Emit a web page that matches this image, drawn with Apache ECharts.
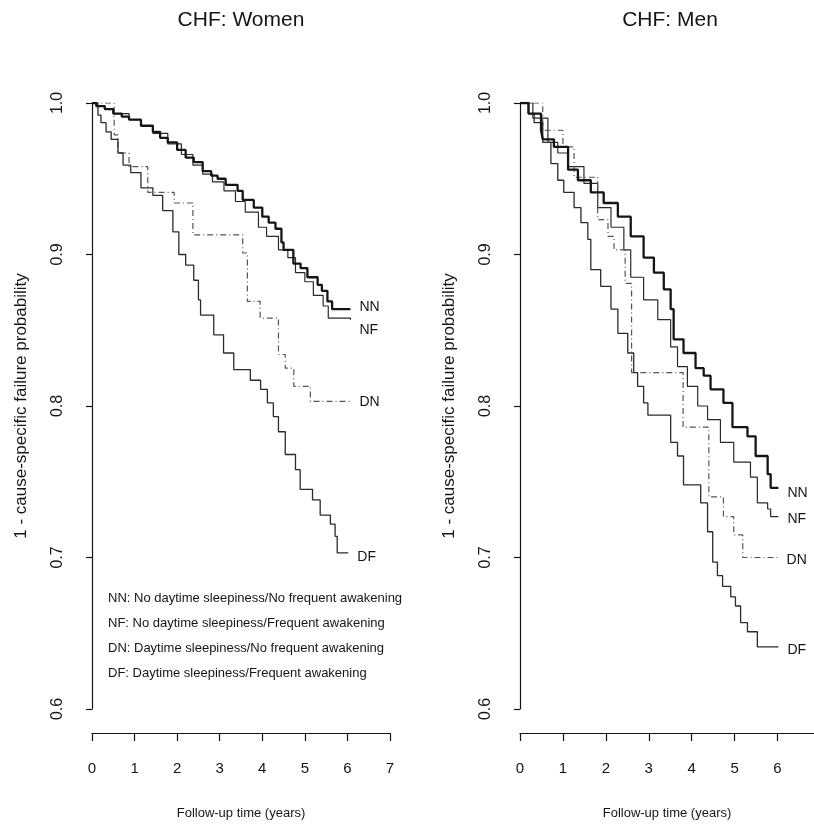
<!DOCTYPE html>
<html>
<head>
<meta charset="utf-8">
<title>CHF survival curves</title>
<script src="https://cdn.jsdelivr.net/npm/echarts@6/dist/echarts.min.js"></script>
<style>
  html, body { margin: 0; padding: 0; background: #fff; }
  #chart { width: 814px; height: 825px; }
</style>
</head>
<body>
<div id="chart"></div>
<script>
// [follow-up years, 1 - failure probability]
var womenNN = [[0,1.000],[0.10,0.998],[0.30,0.996],[0.50,0.993],[0.70,0.991],[0.87,0.989],[1.15,0.985],[1.43,0.981],[1.60,0.977],[1.78,0.974],[2.00,0.969],[2.20,0.964],[2.39,0.961],[2.60,0.955],[2.80,0.952],[2.95,0.950],[3.14,0.946],[3.42,0.942],[3.54,0.936],[3.80,0.931],[4.00,0.925],[4.15,0.921],[4.31,0.917],[4.45,0.908],[4.50,0.903],[4.73,0.894],[4.90,0.891],[5.06,0.885],[5.30,0.880],[5.40,0.876],[5.53,0.869],[5.64,0.864],[6.07,0.864]];
var womenNF = [[0,1.000],[0.10,0.998],[0.30,0.996],[0.50,0.993],[0.87,0.989],[1.15,0.985],[1.43,0.980],[1.78,0.973],[2.10,0.966],[2.37,0.959],[2.60,0.953],[2.83,0.948],[3.10,0.942],[3.37,0.935],[3.60,0.928],[3.91,0.918],[4.10,0.912],[4.38,0.903],[4.60,0.898],[4.78,0.888],[5.00,0.882],[5.20,0.873],[5.43,0.866],[5.55,0.858],[6.07,0.857]];
var womenDN = [[0,1.000],[0.52,0.979],[0.61,0.967],[0.87,0.958],[1.31,0.941],[1.93,0.934],[2.37,0.913],[3.54,0.901],[3.65,0.869],[3.95,0.858],[4.38,0.834],[4.54,0.825],[4.74,0.813],[5.13,0.803],[6.07,0.803]];
var womenDF = [[0,1.000],[0.14,0.992],[0.21,0.987],[0.33,0.981],[0.45,0.976],[0.61,0.967],[0.73,0.959],[0.91,0.954],[1.15,0.944],[1.43,0.939],[1.66,0.929],[1.90,0.915],[2.04,0.900],[2.20,0.893],[2.39,0.883],[2.50,0.870],[2.55,0.860],[2.86,0.847],[3.09,0.835],[3.33,0.824],[3.72,0.817],[3.96,0.811],[4.12,0.802],[4.26,0.793],[4.38,0.783],[4.54,0.768],[4.78,0.758],[4.89,0.745],[5.18,0.738],[5.36,0.728],[5.60,0.722],[5.71,0.714],[5.76,0.703],[6.02,0.703]];

var menNN = [[0,1.000],[0.20,0.993],[0.49,0.982],[0.53,0.976],[0.79,0.971],[1.12,0.956],[1.35,0.949],[1.65,0.941],[1.95,0.934],[2.28,0.925],[2.58,0.912],[2.88,0.898],[3.12,0.888],[3.35,0.877],[3.51,0.864],[3.58,0.844],[3.81,0.835],[4.09,0.825],[4.28,0.820],[4.44,0.811],[4.74,0.802],[4.95,0.786],[5.30,0.780],[5.49,0.767],[5.77,0.755],[5.84,0.746],[6.02,0.746]];
var menNF = [[0,1.000],[0.30,0.990],[0.65,0.974],[0.88,0.967],[1.12,0.958],[1.49,0.947],[1.81,0.931],[2.12,0.918],[2.42,0.903],[2.58,0.885],[2.88,0.870],[3.21,0.857],[3.51,0.839],[3.67,0.826],[3.90,0.813],[4.14,0.800],[4.37,0.791],[4.67,0.776],[4.98,0.763],[5.37,0.753],[5.53,0.736],[5.77,0.732],[5.84,0.727],[6.02,0.727]];
var menDN = [[0,1.000],[0.53,0.982],[1.00,0.971],[1.26,0.951],[1.81,0.923],[2.05,0.912],[2.19,0.903],[2.45,0.881],[2.60,0.822],[3.80,0.786],[4.40,0.740],[4.74,0.727],[4.98,0.715],[5.19,0.700],[6.00,0.700]];
var menDF = [[0,1.000],[0.19,0.993],[0.33,0.987],[0.53,0.974],[0.72,0.960],[0.88,0.949],[1.02,0.941],[1.26,0.931],[1.42,0.921],[1.58,0.910],[1.65,0.890],[1.88,0.879],[2.12,0.864],[2.28,0.848],[2.51,0.835],[2.65,0.822],[2.74,0.813],[2.88,0.802],[2.98,0.794],[3.51,0.776],[3.67,0.767],[3.81,0.748],[4.21,0.736],[4.37,0.717],[4.49,0.697],[4.60,0.688],[4.72,0.681],[4.91,0.674],[5.02,0.668],[5.14,0.657],[5.30,0.651],[5.53,0.641],[6.02,0.641]];

var panelTitles = ['CHF: Women', 'CHF: Men'];
var groupNames = ['NN', 'NF', 'DN', 'DF'];
var legendLines = [
    'NN: No daytime sleepiness/No frequent awakening',
    'NF: No daytime sleepiness/Frequent awakening',
    'DN: Daytime sleepiness/No frequent awakening',
    'DF: Daytime sleepiness/Frequent awakening'
];
var xMax = [7, 6.85];   // right panel's axis runs off the page edge before 7

var FONT = '"Liberation Sans", Arial, sans-serif';
var INK = '#151515';

var chart = echarts.init(document.getElementById('chart'));

var lineStyles = {
    NN: { color: INK, width: 2.3, type: 'solid' },
    NF: { color: '#2a2a2a', width: 1.2, type: 'solid' },
    DN: { color: '#555', width: 1.2, type: [6, 3, 1, 3] },
    DF: { color: '#2a2a2a', width: 1.3, type: 'solid' }
};

// vertical nudge for the NN/NF/DN/DF tags at the end of each curve
var labelShift = [
    { NN: -2, NF: 10, DN: 1, DF: 4 },
    { NN: 5, NF: 3, DN: 3, DF: 3 }
];

function makeSeries(panel, data) {
    var out = [];
    for (var i = 0; i < groupNames.length; i++) {
        var g = groupNames[i];
        out.push({
            name: g,
            type: 'line',
            step: 'end',
            xAxisIndex: panel,
            yAxisIndex: panel,
            data: data[i],
            showSymbol: false,
            symbol: 'none',
            lineStyle: lineStyles[g],
            z: g == 'NN' ? 5 : 3,
            endLabel: {
                show: true,
                formatter: g,
                distance: 9,
                offset: [0, labelShift[panel][g]],
                color: INK,
                fontSize: 14,
                fontFamily: FONT
            }
        });
    }
    return out;
}

function makeX(panel) {
    return {
        gridIndex: panel,
        type: 'value',
        min: 0,
        max: xMax[panel],
        interval: 1,
        offset: 24,
        splitLine: { show: false },
        axisLine: { show: true, onZero: false, lineStyle: { color: INK, width: 1.2 } },
        axisTick: { show: true, length: 8, lineStyle: { color: INK, width: 1.2 } },
        axisLabel: { margin: 28, fontSize: 15, color: INK, fontFamily: FONT, showMaxLabel: panel == 0 },
        name: 'Follow-up time (years)',
        nameLocation: 'middle',
        nameGap: 74,
        nameTextStyle: { fontSize: 13, color: INK, fontFamily: FONT }
    };
}

function makeY(panel) {
    return {
        gridIndex: panel,
        type: 'value',
        min: 0.6,
        max: 1.0,
        interval: 0.1,
        offset: 12,
        splitLine: { show: false },
        axisLine: { show: true, lineStyle: { color: INK, width: 1.2 } },
        axisTick: { show: true, length: 6, lineStyle: { color: INK, width: 1.2 } },
        axisLabel: {
            rotate: 90,
            margin: 14,
            fontSize: 16,
            color: INK,
            fontFamily: FONT,
            formatter: function (v) { return v.toFixed(1); }
        },
        name: '1 - cause-specific failure probability',
        nameLocation: 'middle',
        nameGap: 50,
        nameTextStyle: { fontSize: 17, color: INK, fontFamily: FONT }
    };
}

var graphics = [];
var titleX = [241, 670];
for (var p = 0; p < panelTitles.length; p++) {
    graphics.push({
        type: 'text',
        x: titleX[p],
        y: 20,
        style: {
            text: panelTitles[p],
            font: '21px ' + FONT,
            fill: INK,
            textAlign: 'center',
            textVerticalAlign: 'middle'
        }
    });
}
for (var k = 0; k < legendLines.length; k++) {
    graphics.push({
        type: 'text',
        x: 108,
        y: 598 + k * 25,
        style: {
            text: legendLines[k],
            font: '13px ' + FONT,
            fill: INK,
            textVerticalAlign: 'middle'
        }
    });
}

var option = {
    animation: false,
    backgroundColor: '#fff',
    grid: [
        { left: 92, top: 103, width: 298, height: 607 },
        { left: 520, top: 103, width: 294, height: 607 }
    ],
    xAxis: [makeX(0), makeX(1)],
    yAxis: [makeY(0), makeY(1)],
    series: makeSeries(0, [womenNN, womenNF, womenDN, womenDF])
        .concat(makeSeries(1, [menNN, menNF, menDN, menDF])),
    graphic: graphics
};

chart.setOption(option);
</script>
</body>
</html>
